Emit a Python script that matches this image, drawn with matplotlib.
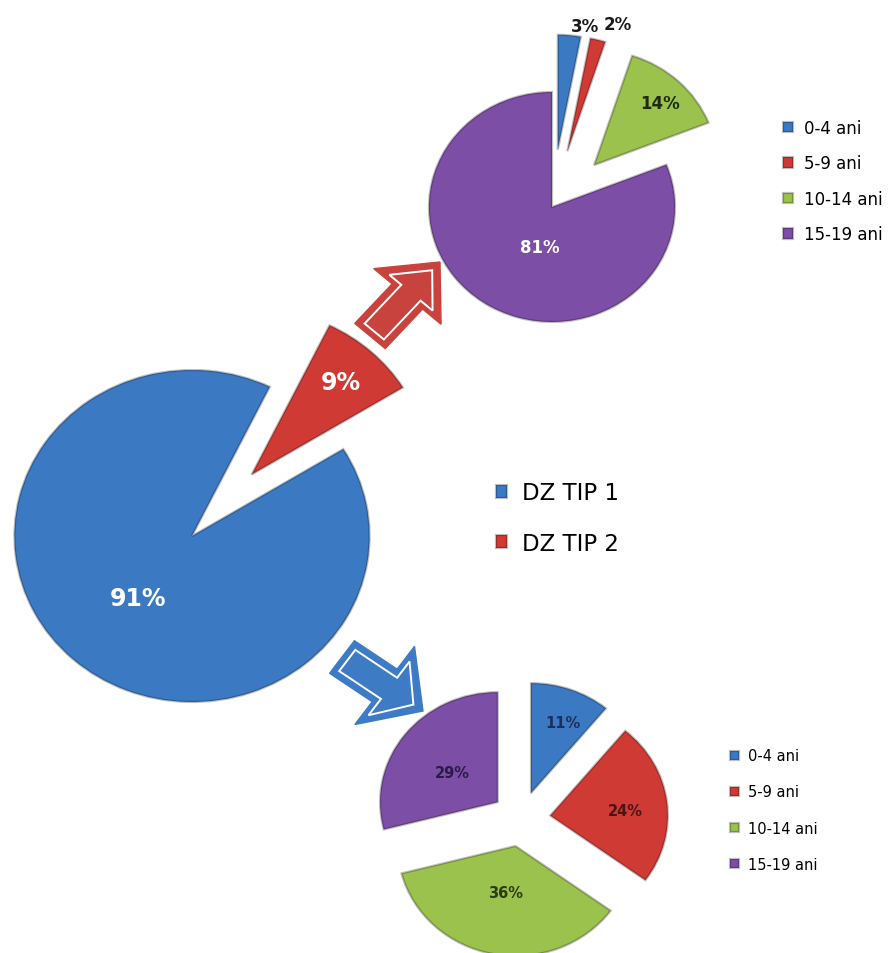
import matplotlib
matplotlib.use("Agg")
import matplotlib.pyplot as plt
from matplotlib.patches import FancyArrow
import numpy as np

# data
main_labels = ["DZ TIP 1", "DZ TIP 2"]
main_values = [91, 9]

age_labels = ["0-4 ani", "5-9 ani", "10-14 ani", "15-19 ani"]
tip2_values = [3, 2, 14, 81]   # small pie at the top (DZ TIP 2)
tip1_values = [11, 24, 36, 29]  # small pie at the bottom (DZ TIP 1)

# picture is stretched a bit sideways, so x data units are wider than y ones
W, H = 893, 954
SX = 1.07

BLUE = "#3B79C3"
RED = "#CF3A34"
GREEN = "#9BC24C"
PURPLE = "#7C4EA5"
age_colors = [BLUE, RED, GREEN, PURPLE]


def px(x, y):
    """pixel position in the picture -> data coords"""
    return x / SX, H - y


def put_labels(ax, wedges, values, dists, shifts, colors, size):
    for w, v, d, s, c in zip(wedges, values, dists, shifts, colors):
        ang = np.deg2rad((w.theta1 + w.theta2) / 2.0 + s)
        cx, cy = w.center
        ax.text(cx + d * w.r * np.cos(ang), cy + d * w.r * np.sin(ang),
                "{}%".format(v), ha="center", va="center", fontsize=size,
                fontweight="bold", color=c, zorder=5)


def hollow_arrow(ax, tail, tip, width, head_width, head_length, color):
    (x0, y0), (x1, y1) = px(*tail), px(*tip)
    dx, dy = x1 - x0, y1 - y0
    ln = np.hypot(dx, dy)
    ux, uy = dx / ln, dy / ln
    ax.add_patch(FancyArrow(x0, y0, dx, dy, width=width,
                            head_width=head_width, head_length=head_length,
                            length_includes_head=True, facecolor=color,
                            edgecolor=color, linewidth=1, zorder=3))
    # thin white line inside the outline
    a, b = 6, 11
    ax.add_patch(FancyArrow(x0 + a * ux, y0 + a * uy,
                            dx - (a + b) * ux, dy - (a + b) * uy,
                            width=width - 14, head_width=head_width - 30,
                            head_length=head_length - 16,
                            length_includes_head=True, fill=False,
                            edgecolor="white", linewidth=1.4, zorder=4))


fig = plt.figure(figsize=(W / 100, H / 100), dpi=100)
ax = fig.add_axes([0, 0, 1, 1])

wedge_kw = dict(edgecolor="#00000040", linewidth=1.6)

# main pie
R0 = 166
w_main, _ = ax.pie(main_values, colors=[BLUE, RED], startangle=64,
                   explode=[0, 0.5 * R0], radius=R0, center=px(192, 537),
                   frame=True, wedgeprops=wedge_kw)
put_labels(ax, w_main, main_values, [0.48, 0.75], [3, 0],
           ["white", "white"], 17)

# top pie, DZ TIP 2 by age
R1 = 115
w_top, _ = ax.pie(tip2_values, colors=age_colors, startangle=90,
                  counterclock=False,
                  explode=[0.5 * R1, 0.5 * R1, 0.5 * R1, 0],
                  radius=R1, center=px(552, 208), frame=True,
                  wedgeprops=wedge_kw)
put_labels(ax, w_top, tip2_values, [1.1, 1.18, 0.76, 0.36], [-6, -6, -2, 18],
           ["#1a1a1a", "#1a1a1a", "#1f2a0f", "white"], 12)

# bottom pie, DZ TIP 1 by age
R2 = 110
w_bot, _ = ax.pie(tip1_values, colors=age_colors, startangle=90,
                  counterclock=False, explode=[0.25 * R2] * 4,
                  radius=R2, center=px(521, 820), frame=True,
                  wedgeprops=wedge_kw)
put_labels(ax, w_bot, tip1_values, [0.70, 0.64, 0.43, 0.47], [-3, -3, 0, 3],
           ["#1c2f5a", "#4a1414", "#2b3b12", "#2a1a48"], 10.5)

# arrows pointing at the breakdown pies
hollow_arrow(ax, (370, 337), (440, 263), 38, 84, 46, "#C9433E")
hollow_arrow(ax, (342, 658), (423, 712), 40, 96, 44, "#3D7CC5")

leg_kw = dict(frameon=False, borderpad=0, borderaxespad=0, loc="center left")
leg_main = ax.legend(w_main, main_labels, fontsize=16.5,
                     bbox_to_anchor=(496 / W, 1 - 519 / H),
                     handlelength=0.5, handleheight=0.5, handletextpad=0.65,
                     labelspacing=1.2, **leg_kw)
ax.add_artist(leg_main)
leg_top = ax.legend(w_top, age_labels, fontsize=12,
                    bbox_to_anchor=(783 / W, 1 - 182 / H),
                    handlelength=0.6, handleheight=0.6, handletextpad=0.65,
                    labelspacing=1.05, **leg_kw)
ax.add_artist(leg_top)
ax.legend(w_bot, age_labels, fontsize=10.5,
          bbox_to_anchor=(730 / W, 1 - 811 / H),
          handlelength=0.6, handleheight=0.6, handletextpad=0.6,
          labelspacing=1.45, **leg_kw)

ax.set_aspect("auto")
ax.set_xlim(0, W / SX)
ax.set_ylim(0, H)
ax.axis("off")

fig.savefig("out.png", dpi=100)
